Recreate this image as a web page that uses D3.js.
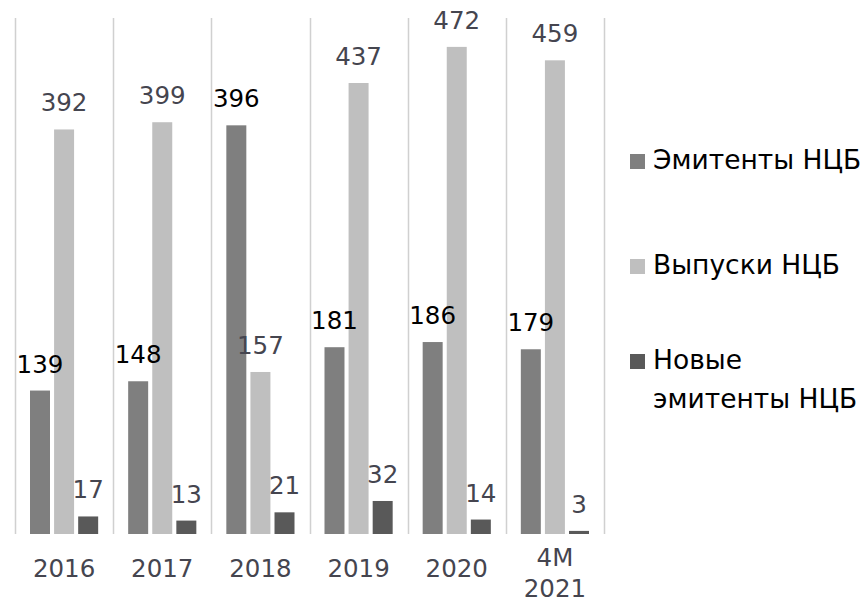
<!DOCTYPE html>
<html>
<head>
<meta charset="utf-8">
<script src="https://cdn.jsdelivr.net/npm/d3@7"></script>
<style>
  body { margin: 0; background: #fff; }
  svg { display: block; font-family: "DejaVu Sans", sans-serif; }
</style>
</head>
<body>
<div id="chart"></div>
<script>
// данные
const categories = ['2016', '2017', '2018', '2019', '2020', '4M\n2021'];
const seriesNames = ['Эмитенты НЦБ', 'Выпуски НЦБ', 'Новые\nэмитенты НЦБ'];
const emitents = [139, 148, 396, 181, 186, 179];
const issues = [392, 399, 157, 437, 472, 459];
const newEmitents = [17, 13, 21, 32, 14, 3];
const seriesColors = ['#7f7f7f', '#bfbfbf', '#595959'];
const labelColors = ['#000000', '#45454f', '#45454f'];

const width = 868, height = 611;
const margin = { left: 15, right: 264, top: 18, bottom: 77 };

const svg = d3.select('#chart').append('svg')
    .attr('width', width)
    .attr('height', height);

const x0 = d3.scaleBand()
    .domain(categories)
    .range([margin.left, width - margin.right])
    .paddingInner(0)
    .paddingOuter(0);

const x1 = d3.scaleBand()
    .domain([0, 1, 2])
    .range([15, x0.bandwidth() - 15])
    .paddingInner(0.17)
    .paddingOuter(0);

const y = d3.scaleLinear()
    .domain([0, 500])
    .range([height - margin.bottom, margin.top]);

// вертикальные линии сетки
const bounds = categories.map(c => x0(c)).concat([x0.range()[1]]);
svg.append('g')
    .selectAll('line')
    .data(bounds)
    .join('line')
    .attr('x1', d => Math.round(d) + 0.5)
    .attr('x2', d => Math.round(d) + 0.5)
    .attr('y1', y(500))
    .attr('y2', y(0))
    .attr('stroke', '#d0d0d0')
    .attr('stroke-width', 1.5);

const series = [emitents, issues, newEmitents];

const groups = svg.append('g')
    .selectAll('g')
    .data(categories)
    .join('g')
    .attr('transform', d => `translate(${x0(d)},0)`);

groups.selectAll('rect')
    .data((c, i) => series.map((s, k) => ({ k, v: s[i] })))
    .join('rect')
    .attr('x', d => x1(d.k))
    .attr('width', x1.bandwidth())
    .attr('y', d => y(d.v))
    .attr('height', d => y(0) - y(d.v))
    .attr('fill', d => seriesColors[d.k]);

groups.selectAll('text.val')
    .data((c, i) => series.map((s, k) => ({ k, v: s[i] })))
    .join('text')
    .attr('class', 'val')
    .attr('x', d => x1(d.k) + x1.bandwidth() / 2)
    .attr('y', d => y(d.v) - 18)
    .attr('text-anchor', 'middle')
    .attr('font-size', 24.5)
    .attr('fill', d => labelColors[d.k])
    .text(d => d.v);

// подписи категорий
const xLabels = svg.append('g')
    .selectAll('text')
    .data(categories)
    .join('text')
    .attr('x', d => x0(d) + x0.bandwidth() / 2)
    .attr('y', 577)
    .attr('text-anchor', 'middle')
    .attr('font-size', 24.5)
    .attr('fill', '#45454f');

xLabels.each(function(d) {
    const lines = d.split('\n');
    d3.select(this).selectAll('tspan')
        .data(lines)
        .join('tspan')
        .attr('x', x0(d) + x0.bandwidth() / 2)
        .attr('dy', (l, i) => i === 0 ? (lines.length > 1 ? -11 : 0) : 31)
        .text(l => l);
});

// легенда
const legendY = [169, 274, 369];
const legend = svg.append('g')
    .selectAll('g')
    .data(seriesNames)
    .join('g')
    .attr('transform', (d, i) => `translate(630,${legendY[i]})`);

legend.append('rect')
    .attr('x', 0)
    .attr('y', -15)
    .attr('width', 15)
    .attr('height', 15)
    .attr('fill', (d, i) => seriesColors[i]);

legend.append('text')
    .attr('font-size', 26.5)
    .attr('fill', '#000')
    .each(function(d) {
        d3.select(this).selectAll('tspan')
            .data(d.split('\n'))
            .join('tspan')
            .attr('x', 23)
            .attr('y', (l, i) => i * 39)
            .text(l => l);
    });
</script>
</body>
</html>
